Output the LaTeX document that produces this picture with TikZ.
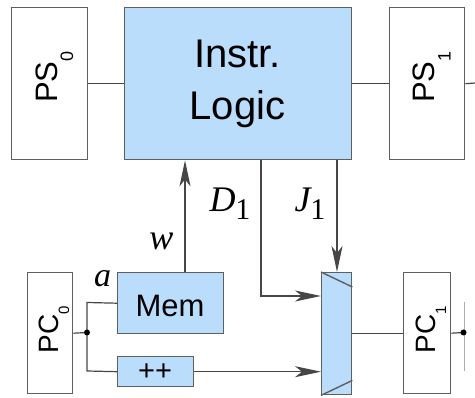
\documentclass[tikz,border=0pt]{standalone}
\usepackage{fontspec}
\setmainfont{Liberation Serif}
\newfontfamily\boxfont{Liberation Sans}
\usetikzlibrary{arrows.meta,calc}
\definecolor{unitblue}{RGB}{186,221,252}
\definecolor{frame}{RGB}{95,95,95}
\definecolor{wirecol}{RGB}{70,70,70}
% lowered subscript: size, drop, text
\newcommand\lowsub[3]{\raisebox{-#2}{\fontsize{#1}{#1}\selectfont #3}}
\begin{document}
\begin{tikzpicture}[x=1pt,y=-1pt,
  box/.style={draw=frame, line width=1.4pt, inner sep=0pt, anchor=north west, fill=white},
  unit/.style={box, fill=unitblue},
  wire/.style={draw=wirecol, line width=1.2pt},
  sig/.style={wire, -{Stealth[length=26pt,width=11pt,inset=7pt]}},
  regtext/.style={rotate=90, anchor=base, inner sep=0pt, font=\boxfont},
  lbl/.style={anchor=base, inner sep=0pt, font=\fontsize{36}{36}\selectfont\itshape},
  dot/.style={circle, fill=black, inner sep=0pt, minimum size=6pt}
]
\useasboundingbox (0,0) rectangle (475,398);

% pipeline state registers
\node[box, minimum width=76pt, minimum height=152pt] (ps0) at (11,7) {};
\node[box, minimum width=75pt, minimum height=152pt] (ps1) at (389,7) {};
\node[regtext, font=\boxfont\fontsize{31}{31}\selectfont] at (57,77) {PS\lowsub{18}{16pt}{0}};
\node[regtext, font=\boxfont\fontsize{31}{31}\selectfont] at (434.5,77) {PS\lowsub{18}{16pt}{1}};

% instruction logic
\node[unit, minimum width=227pt, minimum height=152pt] (logic) at (124,7) {};
\node[anchor=base, inner sep=0pt, font=\boxfont\fontsize{40}{40}\selectfont] at (237.5,68) {Instr.};
\node[anchor=base, inner sep=0pt, font=\boxfont\fontsize{40}{40}\selectfont] at (237.5,120) {Logic};

% program counters
\node[box, minimum width=45pt, minimum height=121pt] (pc0) at (27,272) {};
\node[box, minimum width=47pt, minimum height=121pt] (pc1) at (403,272) {};
\node[regtext, font=\boxfont\fontsize{28}{28}\selectfont] at (58,330) {PC\lowsub{15}{11pt}{0}};
\node[regtext, font=\boxfont\fontsize{28}{28}\selectfont] at (435,330) {PC\lowsub{15}{11pt}{1}};

% memory and incrementer
\node[unit, minimum width=106pt, minimum height=61pt] (mem) at (117,272) {};
\node[anchor=base, inner sep=0pt, font=\boxfont\fontsize{31}{31}\selectfont] at (170,317) {Mem};
\node[unit, minimum width=76pt, minimum height=30pt] (inc) at (117,356) {};
\node[anchor=base, inner sep=0pt, font=\boxfont\fontsize{29}{29}\selectfont] at (155,381) {++};

% multiplexer
\node[unit, minimum width=30pt, minimum height=122pt] (mux) at (321,272) {};
\draw[frame, line width=1.4pt] (mux.north west) -- ($(mux.north east)+(0,15)$);
\draw[frame, line width=1.4pt] (mux.south west) -- ($(mux.south east)+(0,-15)$);

% pipeline links
\draw[wire] (ps0) -- (logic);
\draw[wire] (logic) -- (ps1);
\coordinate (outr) at (475,83);
\draw[wire] (ps1.east) -- (outr);

% control signals
\coordinate (wx) at (185,0);
\coordinate (dx) at (261,296);
\coordinate (jx) at (337,0);
\draw[sig] (mem.north -| wx) -- (logic.south -| wx);
\draw[sig] (logic.south -| dx) -- (dx) -- (mux.west |- dx);
\draw[sig] (logic.south -| jx) -- (mux.north -| jx);

% PC fan-out
\coordinate (split) at (87,332.5);
\coordinate (top) at (87,302.5);
\coordinate (bot) at (87,371);
\draw[wire] (pc0.east) -- (split);
\draw[wire] (mem.west) -- (top) -- (bot) -- (inc.west);
\node[dot] at (split) {};
\draw[sig] (inc.east) -- (mux.west |- inc.east);
\draw[wire] (mux.east |- pc1.west) -- (pc1.west);
\coordinate (split1) at (463.5,332.5);
\draw[wire] (pc1.east) -- (split1);
\draw[draw=wirecol!45, line width=0.8pt] (464,302.5) -- (464,371);
\node[dot] at (split1) {};

% labels
\node[lbl] at (161.5,250) {w};
\node[lbl, font=\fontsize{34}{34}\selectfont\itshape] at (102.5,287) {a};
\node[lbl] at (230,212) {D\lowsub{30}{8pt}{\upshape 1}};
\node[lbl] at (310,212) {J\lowsub{30}{8pt}{\upshape 1}};
\end{tikzpicture}
\end{document}
